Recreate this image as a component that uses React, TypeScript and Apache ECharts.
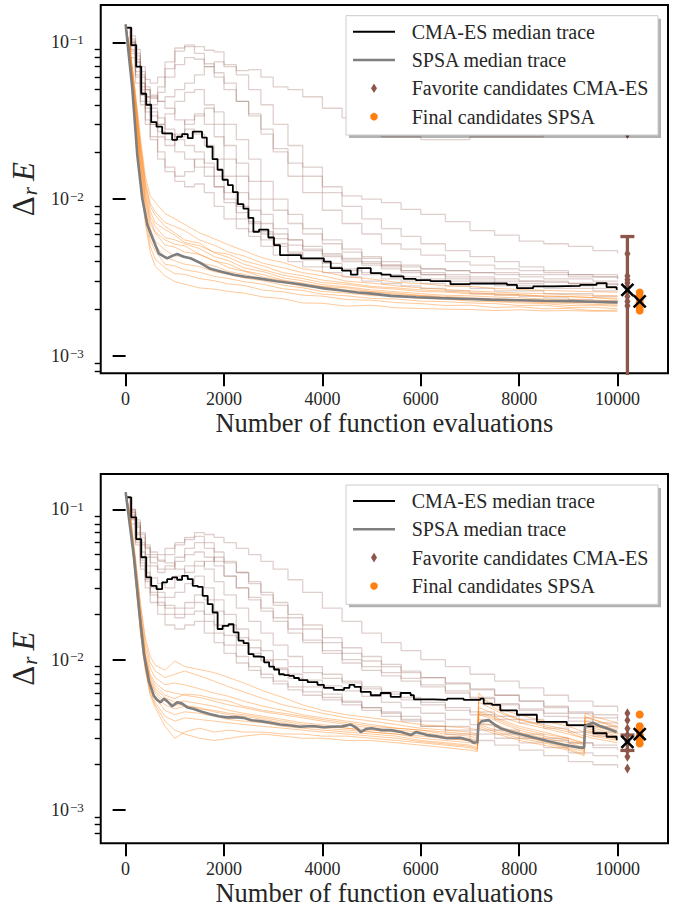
import React, { useEffect, useRef } from "react";
import * as echarts from "echarts";

// ---------- axes / ticks ----------
const xTickValues = [0, 2000, 4000, 6000, 8000, 10000];
const yDecadeExponents = [-3, -2, -1];
const yMinorMultipliers = [2, 3, 4, 5, 6, 7, 8, 9];
const xLabel = "Number of function evaluations";
const legendLabels = [
  "CMA-ES median trace",
  "SPSA median trace",
  "Favorite candidates CMA-ES",
  "Final candidates SPSA",
];

// ---------- x grids (function evaluations) ----------
const xCma = [0, 100, 200, 300, 400, 500, 650, 800, 1000, 1200, 1400, 1600, 1800, 2000, 2250, 2500, 2750, 3000, 3300, 3600, 4000, 4400, 4800, 5200, 5600, 6000, 6500, 7000, 7500, 8000, 8500, 9000, 9500, 10000];
const xSpsaTop = [0, 100, 200, 300, 400, 500, 600, 800, 1000, 1200, 1500, 1800, 2100, 2400, 2800, 3200, 3600, 4000, 4500, 5000, 5500, 6000, 6500, 7000, 7500, 8000, 8500, 9000, 9500, 10000];
const xSpsaBottom = [0, 100, 200, 300, 400, 500, 600, 800, 1000, 1200, 1500, 1800, 2100, 2400, 2800, 3200, 3600, 4000, 4500, 5000, 5500, 6000, 6500, 7000, 7150, 7180, 7400, 7700, 8000, 8500, 9000, 9320, 9340, 9500, 10000];

// ---------- values, in units of 1e-3 ----------
// Top panel
const cmaTracesTop = [
  [124, 110, 85, 62, 50, 44, 52, 68, 92, 96, 94, 89, 87, 70, 66, 67, 60, 52, 50, 45, 38, 33, 27, 25, 25, 24, 24, 25, 25, 25, 26, 26, 26, 26],
  [124, 105, 90, 70, 58, 55, 60, 75, 88, 94, 85, 73, 64, 55, 42, 34, 28, 21, 17, 14, 11, 10.5, 10, 9.5, 8.6, 8.0, 7.2, 6.3, 5.9, 5.4, 5.2, 5.0, 4.7, 4.5],
  [124, 95, 75, 55, 45, 40, 48, 60, 72, 80, 78, 70, 60, 50, 42, 35, 26, 20, 14, 11, 8.5, 7, 6, 5.2, 4.8, 4.4, 4.0, 3.8, 3.6, 3.5, 3.4, 3.3, 3.3, 3.2],
  [124, 100, 70, 50, 40, 34, 30, 35, 42, 48, 50, 40, 30, 22, 17, 13, 10, 8.5, 7, 6, 5.2, 4.6, 4.3, 4.0, 3.8, 3.6, 3.5, 3.4, 3.3, 3.2, 3.1, 3.1, 3.0, 3.0],
  [124, 90, 65, 48, 38, 30, 25, 22, 26, 32, 35, 30, 25, 18, 14, 10, 8.0, 6.5, 5.5, 4.8, 4.3, 4.0, 3.8, 3.6, 3.4, 3.3, 3.1, 3.0, 2.9, 2.9, 2.8, 2.8, 2.7, 2.75],
  [124, 85, 60, 42, 32, 25, 20, 16, 14, 15, 18, 16, 12, 9.5, 7.5, 6.2, 5.5, 5.0, 4.5, 4.2, 3.9, 3.6, 3.4, 3.3, 3.2, 3.1, 3.0, 2.9, 2.8, 2.8, 2.7, 2.7, 2.6, 2.6],
  [124, 98, 75, 55, 45, 38, 33, 28, 24, 22, 20, 17, 14, 11, 9, 7.2, 6.0, 5.2, 4.6, 4.1, 3.7, 3.5, 3.3, 3.1, 3.0, 2.9, 2.8, 2.7, 2.6, 2.6, 2.5, 2.5, 2.4, 2.4],
  [124, 80, 55, 40, 30, 24, 18, 15, 13, 12, 12.5, 11, 9, 7.5, 6.5, 5.8, 5.0, 4.4, 4.0, 3.7, 3.4, 3.2, 3.0, 2.9, 2.8, 2.7, 2.6, 2.5, 2.45, 2.4, 2.35, 2.3, 2.25, 2.2],
  [124, 102, 82, 65, 52, 46, 42, 38, 32, 30, 34, 38, 36, 30, 24, 18, 13, 10, 8, 6.5, 5.5, 4.8, 4.2, 3.8, 3.5, 3.3, 3.2, 3.1, 3.0, 3.0, 2.95, 2.9, 2.85, 2.9],
  [124, 95, 70, 52, 42, 36, 30, 26, 25, 28, 26, 22, 18, 14, 11, 8.5, 7, 6, 5.5, 5.0, 4.5, 4.2, 4.0, 3.8, 3.7, 3.6, 3.5, 3.4, 3.4, 3.3, 3.3, 3.2, 3.2, 3.1],
  [124, 88, 62, 46, 36, 30, 27, 24, 20, 18, 16, 14, 12, 10, 8.2, 7, 6.2, 5.6, 5.1, 4.7, 4.4, 4.1, 3.9, 3.7, 3.5, 3.4, 3.3, 3.2, 3.1, 3.0, 3.0, 2.9, 2.9, 2.8],
  [124, 100, 78, 60, 50, 45, 42, 45, 50, 55, 62, 70, 75, 72, 62, 50, 40, 30, 22, 16, 12, 9, 7.5, 6.5, 5.8, 5.2, 4.7, 4.3, 4.0, 3.7, 3.5, 3.3, 3.2, 3.1],
];
const spsaTracesTop = [
  [130, 88, 48, 25, 14, 10.5, 9.6, 8.1, 7.5, 6.9, 6.1, 5.6, 5.1, 4.7, 4.2, 3.95, 3.6, 3.45, 3.2, 3.1, 2.95, 2.9, 2.8, 2.78, 2.7, 2.66, 2.62, 2.6, 2.57, 2.55],
  [130, 85, 45, 23, 13, 9.4, 8.3, 7.1, 6.7, 6.3, 5.5, 5.1, 4.6, 4.35, 3.9, 3.65, 3.4, 3.25, 3.0, 2.92, 2.8, 2.72, 2.66, 2.6, 2.56, 2.52, 2.5, 2.46, 2.44, 2.42],
  [130, 82, 42, 21, 12, 8.4, 7.1, 6.4, 5.9, 5.3, 5.05, 4.6, 4.45, 4.05, 3.75, 3.4, 3.25, 3.05, 2.92, 2.78, 2.72, 2.64, 2.6, 2.54, 2.5, 2.47, 2.41, 2.4, 2.36, 2.34],
  [130, 80, 40, 20, 11, 7.8, 6.7, 5.7, 5.5, 5.2, 4.85, 4.3, 4.05, 3.65, 3.45, 3.15, 3.02, 2.85, 2.76, 2.64, 2.57, 2.5, 2.44, 2.42, 2.38, 2.35, 2.31, 2.28, 2.27, 2.25],
  [130, 78, 38, 18, 10, 7.0, 6.1, 5.1, 4.95, 4.6, 4.45, 4.05, 3.85, 3.5, 3.3, 3.05, 2.92, 2.78, 2.72, 2.58, 2.52, 2.44, 2.4, 2.36, 2.31, 2.29, 2.26, 2.24, 2.21, 2.2],
  [130, 76, 36, 17, 9.4, 6.5, 5.4, 4.75, 4.35, 4.35, 3.95, 3.75, 3.45, 3.32, 3.08, 2.97, 2.78, 2.72, 2.58, 2.52, 2.44, 2.41, 2.34, 2.31, 2.24, 2.22, 2.19, 2.16, 2.14, 2.11],
  [130, 75, 34, 16, 8.8, 6.0, 5.1, 4.25, 4.05, 3.85, 3.72, 3.45, 3.32, 3.15, 3.02, 2.83, 2.72, 2.58, 2.52, 2.43, 2.41, 2.33, 2.31, 2.24, 2.22, 2.18, 2.16, 2.1, 2.11, 2.08],
  [130, 73, 33, 15, 8.2, 5.5, 4.7, 3.85, 3.75, 3.55, 3.42, 3.22, 3.12, 2.98, 2.87, 2.68, 2.62, 2.48, 2.42, 2.33, 2.31, 2.24, 2.22, 2.18, 2.16, 2.1, 2.11, 2.04, 2.05, 2.0],
  [130, 72, 31, 14, 7.6, 5.0, 4.15, 3.65, 3.35, 3.32, 3.12, 3.02, 2.88, 2.82, 2.63, 2.57, 2.44, 2.41, 2.29, 2.27, 2.19, 2.16, 2.1, 2.11, 2.04, 2.06, 2.0, 2.01, 1.95, 1.96],
  [130, 70, 30, 13, 7.0, 4.6, 3.75, 3.25, 2.98, 2.87, 2.72, 2.67, 2.58, 2.52, 2.38, 2.32, 2.18, 2.17, 2.08, 2.11, 2.03, 2.01, 1.99, 1.98, 1.95, 1.97, 1.94, 1.95, 1.93, 1.93],
  [130, 84, 44, 22, 12.5, 9.0, 7.9, 6.7, 6.1, 5.5, 5.25, 4.55, 4.25, 3.85, 3.55, 3.28, 3.12, 2.94, 2.86, 2.73, 2.67, 2.58, 2.56, 2.49, 2.46, 2.44, 2.41, 2.39, 2.36, 2.3],
  [130, 79, 39, 19, 10.5, 7.4, 6.2, 5.5, 5.15, 5.05, 4.45, 4.05, 3.65, 3.48, 3.18, 3.02, 2.83, 2.77, 2.63, 2.57, 2.48, 2.42, 2.36, 2.32, 2.28, 2.26, 2.21, 2.2, 2.19, 2.15],
];
const cmaMedianTop = [
  [0, 124], [115, 96], [216, 70], [318, 47], [419, 40], [520, 31], [628, 29], [743, 26.3], [946, 23.9], [1047, 25], [1148, 26], [1263, 24.5], [1364, 27], [1553, 24.7], [1650, 21.6], [1767, 18], [1869, 15.4], [1970, 13.3], [2078, 12.3], [2180, 11.1], [2280, 9.3], [2395, 8.7], [2496, 7.6], [2597, 6.2], [2712, 6.4], [2901, 5.7], [3016, 5.1], [3138, 4.4], [3362, 4.4], [3565, 4.2], [3770, 4.2], [4030, 4.0], [4170, 3.63], [4400, 3.5], [4578, 3.3], [4713, 3.63], [4983, 3.38], [5200, 3.3], [5388, 3.22], [5651, 3.1], [5900, 3.05], [6198, 3.0], [6603, 2.87], [7000, 2.9], [7413, 2.9], [7752, 2.84], [7955, 2.71], [8285, 2.78], [8700, 2.8], [9236, 2.84], [9574, 2.92], [9777, 2.75], [9980, 2.67], [10000, 2.67],
];
const spsaMedianTop = [
  [0, 130], [135, 51], [237, 19.1], [338, 10.1], [440, 6.9], [541, 5.7], [675, 4.5], [844, 4.2], [950, 4.35], [1047, 4.47], [1180, 4.3], [1317, 4.2], [1500, 3.95], [1722, 3.6], [1950, 3.45], [2194, 3.3], [2430, 3.2], [2667, 3.14], [3072, 3.0], [3545, 2.87], [4030, 2.7], [4400, 2.62], [4713, 2.54], [5000, 2.5], [5388, 2.42], [5900, 2.37], [6400, 2.34], [7000, 2.31], [7413, 2.29], [8000, 2.27], [8500, 2.25], [9000, 2.24], [9500, 2.22], [10000, 2.2],
];
const cmaFavoritesTop = [26, 4.49, 3.24, 3.06, 2.92, 2.75, 2.58, 2.4, 2.23, 2.09];
const spsaFinalTop = [2.54, 2.4, 2.29, 2.18, 2.05, 1.95];
const cmaSummaryTop = { x: 10200, median: 2.64, errLow: -4.6, errHigh: 5.78 };
const spsaSummaryTop = { x: 10450, median: 2.23 };

// Bottom panel
const cmaTracesBottom = [
  [120, 100, 85, 70, 58, 52, 50, 55, 60, 65, 70, 68, 65, 60, 55, 50, 45, 40, 34, 28, 22, 18, 15, 13, 11.5, 10, 9, 8, 7.2, 6.5, 5.8, 5.3, 4.9, 4.5],
  [120, 95, 80, 65, 55, 48, 45, 50, 58, 63, 66, 60, 52, 45, 38, 32, 27, 23, 19, 16, 13, 11, 9.8, 9.0, 8.2, 7.6, 7.0, 6.4, 5.8, 5.3, 4.8, 4.4, 4.1, 3.9],
  [120, 98, 78, 60, 50, 44, 40, 42, 48, 55, 60, 55, 45, 36, 30, 25, 21, 18, 15, 13, 11, 9.5, 8.5, 7.8, 7.2, 6.6, 6.0, 5.5, 5.0, 4.6, 4.2, 3.9, 3.6, 3.5],
  [120, 90, 70, 52, 42, 35, 32, 30, 36, 42, 45, 40, 33, 27, 22, 18, 15, 12.5, 10.5, 9.0, 8.0, 7.2, 6.6, 6.1, 5.6, 5.2, 4.8, 4.5, 4.2, 4.0, 3.8, 3.6, 3.3, 3.2],
  [120, 92, 68, 48, 38, 31, 28, 26, 28, 32, 36, 30, 25, 20, 16, 13.5, 11.5, 10, 9, 8.2, 7.5, 7, 6.4, 5.9, 5.4, 5.0, 4.6, 4.3, 4.0, 3.8, 3.5, 3.3, 3.1, 3.0],
  [120, 85, 62, 44, 34, 28, 24, 22, 20, 22, 24, 20, 17, 14.5, 12.5, 11, 9.8, 8.8, 8, 7.3, 6.7, 6.2, 5.7, 5.2, 4.8, 4.4, 4.0, 3.7, 3.4, 3.2, 3.0, 2.8, 2.6, 2.5],
  [120, 80, 58, 40, 30, 24, 20, 17, 16, 17, 18, 15, 13, 11, 9.5, 8.5, 7.6, 6.9, 6.3, 5.8, 5.4, 5.0, 4.6, 4.2, 3.9, 3.6, 3.4, 3.2, 3.0, 2.8, 2.6, 2.4, 2.3, 2.2],
  [120, 88, 64, 46, 36, 30, 26, 23, 22, 24, 27, 25, 21, 17, 14, 12, 10, 8.6, 7.5, 6.6, 5.9, 5.3, 4.8, 4.4, 4.0, 3.6, 3.2, 2.9, 2.7, 2.5, 2.3, 2.1, 2.0, 1.9],
  [120, 96, 76, 58, 48, 42, 38, 40, 45, 50, 52, 48, 42, 36, 30, 26, 22, 19, 16, 13.5, 11.5, 10, 9, 8.2, 7.5, 6.8, 6.2, 5.6, 5.1, 4.7, 4.4, 4.1, 3.8, 3.7],
  [120, 100, 82, 68, 56, 50, 46, 44, 40, 38, 42, 45, 48, 44, 38, 33, 28, 24, 20, 17, 14, 12, 10.5, 9.3, 8.4, 7.6, 6.9, 6.3, 5.8, 5.3, 4.9, 4.5, 4.3, 4.1],
  [120, 86, 60, 42, 33, 27, 23, 20, 19, 20, 21, 18, 15, 12.5, 10.5, 9, 8, 7.2, 6.6, 6.1, 5.6, 5.2, 4.8, 4.5, 4.2, 3.9, 3.6, 3.4, 3.2, 3.0, 2.9, 2.8, 2.7, 2.7],
];
const spsaTracesBottom = [
  [130, 90, 48, 24, 14, 10.5, 9.2, 8.5, 9.8, 9.0, 8.6, 8.2, 7.6, 7.0, 6.2, 5.6, 5.0, 4.6, 4.3, 4.1, 3.9, 3.7, 3.6, 3.5, 3.4, 5.6, 5.2, 4.6, 4.3, 3.9, 3.6, 3.3, 4.4, 4.2, 3.8],
  [130, 88, 46, 23, 13, 9.6, 8.4, 7.6, 8.0, 8.4, 7.8, 7.2, 6.6, 6.1, 5.5, 5.0, 4.7, 4.4, 4.1, 3.9, 3.7, 3.5, 3.4, 3.3, 3.2, 5.2, 4.8, 4.3, 4.0, 3.7, 3.4, 3.1, 4.1, 4.0, 3.6],
  [130, 86, 44, 21, 12, 8.8, 7.6, 6.8, 7.0, 6.8, 6.4, 6.0, 5.7, 5.3, 4.9, 4.6, 4.3, 4.1, 3.9, 3.7, 3.5, 3.4, 3.2, 3.1, 3.0, 4.8, 4.5, 4.1, 3.8, 3.5, 3.2, 3.0, 3.9, 3.8, 3.4],
  [130, 84, 42, 20, 11, 8.0, 7.0, 6.2, 6.0, 5.8, 5.6, 5.3, 5.0, 4.8, 4.5, 4.3, 4.1, 3.9, 3.7, 3.5, 3.4, 3.3, 3.1, 3.0, 2.9, 4.5, 4.3, 3.9, 3.6, 3.3, 3.0, 2.8, 3.7, 3.6, 3.3],
  [130, 82, 40, 19, 10.5, 7.4, 6.4, 5.6, 5.2, 5.3, 5.1, 4.9, 4.6, 4.4, 4.2, 4.0, 3.8, 3.7, 3.5, 3.4, 3.3, 3.2, 3.0, 2.9, 2.8, 4.3, 4.1, 3.7, 3.4, 3.1, 2.9, 2.7, 3.6, 3.5, 3.2],
  [130, 80, 38, 18, 10, 7.0, 6.0, 5.0, 4.7, 4.9, 4.8, 4.5, 4.3, 4.2, 4.0, 3.8, 3.6, 3.5, 3.4, 3.3, 3.2, 3.0, 2.9, 2.8, 2.7, 4.0, 3.9, 3.5, 3.3, 3.0, 2.8, 2.6, 3.5, 3.4, 3.1],
  [130, 79, 37, 17, 9.5, 6.6, 5.6, 4.6, 4.3, 4.5, 4.4, 4.2, 4.0, 3.9, 3.8, 3.6, 3.5, 3.4, 3.3, 3.2, 3.1, 2.9, 2.8, 2.7, 2.6, 3.8, 3.7, 3.4, 3.2, 2.9, 2.7, 2.5, 3.4, 3.3, 3.0],
  [130, 78, 36, 16, 9.0, 6.2, 5.2, 4.2, 3.9, 4.1, 4.0, 3.9, 3.8, 3.7, 3.6, 3.5, 3.4, 3.3, 3.2, 3.1, 3.0, 2.85, 2.75, 2.65, 2.55, 3.7, 3.5, 3.3, 3.1, 2.85, 2.6, 2.45, 3.3, 3.2, 2.95],
  [130, 76, 34, 15, 8.5, 5.8, 4.8, 3.6, 3.0, 3.3, 3.5, 3.3, 3.4, 3.3, 3.3, 3.2, 3.2, 3.1, 3.1, 3.0, 2.9, 2.8, 2.7, 2.6, 2.5, 3.6, 3.4, 3.2, 3.0, 2.8, 2.55, 2.35, 3.2, 3.1, 2.9],
  [130, 77, 35, 15.5, 8.7, 6.0, 5.0, 3.9, 3.4, 3.2, 3.0, 2.9, 3.0, 3.1, 3.2, 3.1, 3.0, 3.0, 2.9, 2.9, 2.8, 2.7, 2.6, 2.5, 2.45, 3.5, 3.3, 3.1, 2.9, 2.7, 2.5, 2.3, 3.1, 3.0, 2.8],
  [130, 83, 41, 19.5, 10.8, 7.7, 6.7, 5.8, 5.5, 5.9, 5.8, 5.5, 5.3, 4.9, 4.6, 4.4, 4.2, 4.0, 3.8, 3.6, 3.5, 3.4, 3.3, 3.2, 3.1, 6.0, 5.0, 4.4, 4.0, 3.6, 3.3, 3.0, 4.2, 4.0, 3.5],
  [130, 81, 39, 18.5, 10.2, 7.2, 6.2, 5.3, 5.0, 5.0, 4.7, 4.6, 4.4, 4.3, 4.1, 3.9, 3.7, 3.6, 3.5, 3.3, 3.2, 3.1, 3.0, 2.9, 2.8, 4.4, 4.2, 3.8, 3.5, 3.2, 3.0, 2.75, 3.8, 3.7, 3.3],
];
const cmaMedianBottom = [
  [0, 120], [115, 88.5], [216, 63.4], [318, 48], [419, 35.3], [520, 31], [628, 29.5], [743, 32.7], [844, 34.3], [946, 35.3], [1047, 34], [1148, 36.1], [1263, 34.3], [1364, 31], [1465, 30.5], [1566, 26.6], [1668, 23.4], [1769, 20.6], [1870, 16], [1972, 16.8], [2093, 17.2], [2194, 15.2], [2295, 13.4], [2397, 12.9], [2498, 10.9], [2600, 10.5], [2714, 10.4], [2815, 9.6], [2917, 9.0], [3018, 8.6], [3119, 8.0], [3220, 7.9], [3322, 7.8], [3423, 7.55], [3524, 7.3], [3700, 7.1], [3900, 6.8], [4030, 6.5], [4230, 6.3], [4440, 6.5], [4550, 6.8], [4650, 6.6], [4780, 6.1], [4983, 5.8], [5185, 6.0], [5388, 5.66], [5590, 6.0], [5793, 5.8], [5860, 5.45], [6263, 5.4], [6535, 5.5], [6873, 5.4], [7211, 5.5], [7279, 5.1], [7450, 5.0], [7616, 4.6], [7954, 4.3], [8360, 3.86], [8967, 3.67], [9372, 3.6], [9508, 3.24], [9777, 3.07], [9980, 2.95], [10000, 2.95],
];
const spsaMedianBottom = [
  [0, 130], [169, 48], [270, 22.3], [371, 10.9], [473, 7.2], [574, 5.75], [640, 5.4], [709, 5.2], [780, 5.5], [844, 5.3], [946, 4.9], [1050, 5.2], [1148, 5.1], [1260, 4.8], [1385, 4.7], [1550, 4.5], [1722, 4.34], [1900, 4.2], [2060, 4.13], [2230, 4.15], [2397, 4.1], [2560, 3.95], [2735, 3.9], [2950, 3.8], [3140, 3.7], [3350, 3.65], [3545, 3.58], [3800, 3.62], [4030, 3.55], [4165, 3.58], [4400, 3.6], [4578, 3.7], [4700, 3.5], [4780, 3.3], [4880, 3.45], [5000, 3.5], [5200, 3.4], [5388, 3.4], [5600, 3.3], [5793, 3.15], [5900, 3.3], [6130, 3.15], [6300, 3.1], [6535, 3.0], [6800, 3.02], [7000, 2.9], [7077, 2.8], [7150, 2.82], [7170, 3.7], [7240, 3.9], [7380, 3.96], [7500, 3.7], [7616, 3.5], [7850, 3.3], [8088, 3.15], [8350, 3.0], [8629, 2.84], [8900, 2.72], [9236, 2.6], [9320, 2.6], [9338, 3.6], [9400, 3.7], [9508, 3.8], [9650, 3.6], [9777, 3.5], [9980, 3.3],
];
const cmaFavoritesBottom = [4.4, 3.96, 3.49, 3.15, 2.84, 2.49, 2.26, 1.89];
const spsaFinalBottom = [4.32, 3.61, 3.4, 3.15, 2.92, 2.77];
const cmaSummaryBottom = { x: 10200, median: 2.84, errLow: 2.49, errHigh: 3.15 };
const spsaSummaryBottom = { x: 10450, median: 3.2 };

// ---------- styling ----------
const FONT = "Liberation Serif";
const TEXT = "#262626";
const BROWN = "#8c564b";
const ORANGE = "#ff7f0e";
const CMA_TRACE = "rgba(140,86,75,0.28)";
const SPSA_TRACE = "rgba(255,127,14,0.42)";
const GRAY = "#7f7f7f";
const UNIT = 1e-3;

const lg = (v: number) => Math.log10(v * UNIT);

type Panel = {
  cmaTraces: number[][];
  spsaTraces: number[][];
  xSpsa: number[];
  cmaMedian: number[][];
  spsaMedian: number[][];
  cmaFavorites: number[];
  spsaFinal: number[];
  cmaSummary: { x: number; median: number; errLow: number; errHigh: number };
  spsaSummary: { x: number; median: number };
  yMin: number;
  yMax: number;
  grid: { left: number; top: number; width: number; height: number };
  legendTop: number;
};

const panels: Panel[] = [
  {
    cmaTraces: cmaTracesTop,
    spsaTraces: spsaTracesTop,
    xSpsa: xSpsaTop,
    cmaMedian: cmaMedianTop,
    spsaMedian: spsaMedianTop,
    cmaFavorites: cmaFavoritesTop,
    spsaFinal: spsaFinalTop,
    cmaSummary: cmaSummaryTop,
    spsaSummary: spsaSummaryTop,
    yMin: -3.11,
    yMax: -0.762,
    grid: { left: 99, top: 5, width: 569, height: 368.3 },
    legendTop: 15.7,
  },
  {
    cmaTraces: cmaTracesBottom,
    spsaTraces: spsaTracesBottom,
    xSpsa: xSpsaBottom,
    cmaMedian: cmaMedianBottom,
    spsaMedian: spsaMedianBottom,
    cmaFavorites: cmaFavoritesBottom,
    spsaFinal: spsaFinalBottom,
    cmaSummary: cmaSummaryBottom,
    spsaSummary: spsaSummaryBottom,
    yMin: -3.2215,
    yMax: -0.765,
    grid: { left: 99, top: 474, width: 569, height: 369.3 },
    legendTop: 485,
  },
];

const minorLogs: number[] = [];
[-4, -3, -2, -1].forEach((e) =>
  yMinorMultipliers.forEach((m) => minorLogs.push(Math.log10(m) + e))
);

function legendGraphic(top: number) {
  const L = 346;
  const W = 312;
  const H = 119.3;
  const rows = [top + 16, top + 44.3, top + 72.6, top + 101];
  const els: any[] = [
    { type: "rect", z: 100, silent: true, shape: { x: L + 3, y: top + 3, width: W, height: H }, style: { fill: "rgba(0,0,0,0.3)" } },
    { type: "rect", z: 101, silent: true, shape: { x: L, y: top, width: W, height: H }, style: { fill: "#ffffff", stroke: "#cccccc", lineWidth: 1 } },
    { type: "line", z: 102, silent: true, shape: { x1: 353, y1: rows[0], x2: 395, y2: rows[0] }, style: { stroke: "#000", lineWidth: 2 } },
    { type: "line", z: 102, silent: true, shape: { x1: 353, y1: rows[1], x2: 395, y2: rows[1] }, style: { stroke: GRAY, lineWidth: 2.6 } },
    { type: "polygon", z: 102, silent: true, shape: { points: [[374, rows[2] - 4.8], [377, rows[2]], [374, rows[2] + 4.8], [371, rows[2]]] }, style: { fill: BROWN } },
    { type: "circle", z: 102, silent: true, shape: { cx: 374, cy: rows[3], r: 3.8 }, style: { fill: ORANGE } },
  ];
  legendLabels.forEach((t, i) => {
    els.push({
      type: "text",
      z: 102,
      silent: true,
      x: 411.7,
      y: rows[i],
      style: { text: t, fontFamily: FONT, fontSize: 20, fill: TEXT, verticalAlign: "middle" },
    });
  });
  return els;
}

function buildOption() {
  const grids: any[] = [];
  const xAxes: any[] = [];
  const yAxes: any[] = [];
  const series: any[] = [];
  const graphic: any[] = [];

  panels.forEach((p, gi) => {
    grids.push({ ...p.grid, show: true, borderColor: "#000", borderWidth: 2, backgroundColor: "transparent" });
    xAxes.push({
      type: "value",
      gridIndex: gi,
      min: -506,
      max: 11025,
      name: xLabel,
      nameLocation: "middle",
      nameGap: 32,
      nameTextStyle: { fontFamily: FONT, fontSize: 26.5, color: TEXT },
      axisLine: { show: false },
      splitLine: { show: false },
      axisTick: { show: true, length: 13, customValues: xTickValues, lineStyle: { color: "#000", width: 2 } },
      axisLabel: {
        customValues: xTickValues,
        margin: 17,
        fontFamily: FONT,
        fontSize: 18,
        color: TEXT,
        formatter: (v: number) => String(v),
      },
    });
    const yMajorIndex = yAxes.length;
    yAxes.push({
      type: "value",
      gridIndex: gi,
      position: "left",
      min: p.yMin,
      max: p.yMax,
      name: "{d|Δ}{r|r}{e|E}",
      nameLocation: "middle",
      nameRotate: 90,
      nameGap: 54,
      nameTextStyle: {
        rich: {
          d: { fontFamily: FONT, fontSize: 31, color: TEXT },
          r: { fontFamily: FONT, fontSize: 21, fontStyle: "italic", color: TEXT, verticalAlign: "bottom", padding: [12, 0, 0, 1] },
          e: { fontFamily: FONT, fontSize: 31, fontStyle: "italic", color: TEXT, padding: [0, 0, 0, 6] },
        },
      },
      axisLine: { show: false },
      splitLine: { show: false },
      axisTick: { show: true, length: 13, customValues: yDecadeExponents, lineStyle: { color: "#000", width: 2 } },
      axisLabel: {
        customValues: yDecadeExponents,
        margin: 17,
        formatter: (v: number) => `{b|10}{s|−${Math.round(-v)}}`,
        rich: {
          b: { fontFamily: FONT, fontSize: 18, color: TEXT },
          s: { fontFamily: FONT, fontSize: 13, color: TEXT, verticalAlign: "top", padding: [0, 0, 6, 1] },
        },
      },
    });
    yAxes.push({
      type: "value",
      gridIndex: gi,
      position: "left",
      offset: 0,
      min: p.yMin,
      max: p.yMax,
      axisLine: { show: false },
      splitLine: { show: false },
      axisLabel: { show: false },
      axisTick: { show: true, length: 6, customValues: minorLogs, lineStyle: { color: "#000", width: 1.4 } },
    });

    const common = { xAxisIndex: gi, yAxisIndex: yMajorIndex, silent: true, animation: false };

    p.cmaTraces.forEach((tr) => {
      series.push({
        ...common,
        type: "line",
        step: "end",
        symbol: "none",
        data: xCma.map((x, i) => [x, lg(tr[i])]),
        lineStyle: { color: CMA_TRACE, width: 1.3 },
        z: 2,
      });
    });
    p.spsaTraces.forEach((tr) => {
      series.push({
        ...common,
        type: "line",
        symbol: "none",
        data: p.xSpsa.map((x, i) => [x, lg(tr[i])]),
        lineStyle: { color: SPSA_TRACE, width: 1 },
        z: 2,
      });
    });
    series.push({
      ...common,
      type: "line",
      step: "end",
      symbol: "none",
      data: p.cmaMedian.map(([x, v]) => [x, lg(v)]),
      lineStyle: { color: "#000", width: 1.8 },
      z: 3,
    });
    series.push({
      ...common,
      type: "line",
      symbol: "none",
      data: p.spsaMedian.map(([x, v]) => [x, lg(v)]),
      lineStyle: { color: GRAY, width: 2.6 },
      z: 3,
    });
    series.push({
      ...common,
      type: "scatter",
      symbol: "diamond",
      symbolSize: [6, 10],
      data: p.cmaFavorites.map((v) => [p.cmaSummary.x, lg(v)]),
      itemStyle: { color: BROWN, opacity: 1 },
      z: 4,
    });
    const s = p.cmaSummary;
    const hi = lg(s.errHigh);
    const lo = s.errLow > 0 ? lg(s.errLow) : p.yMin - 2;
    series.push({
      ...common,
      type: "line",
      symbol: "none",
      data: [[s.x, hi], [s.x, lo]],
      lineStyle: { color: BROWN, width: 3.3 },
      z: 5,
    });
    series.push({
      ...common,
      type: "scatter",
      symbol: "rect",
      symbolSize: [14, 3.3],
      data: [[s.x, hi], [s.x, lo]],
      itemStyle: { color: BROWN, opacity: 1 },
      z: 5,
    });
    series.push({
      ...common,
      type: "scatter",
      symbol: "circle",
      symbolSize: 8,
      data: p.spsaFinal.map((v) => [p.spsaSummary.x, lg(v)]),
      itemStyle: { color: ORANGE, opacity: 1 },
      z: 5,
    });
    series.push({
      ...common,
      type: "scatter",
      symbol: "path://M0 0L10 10M10 0L0 10",
      symbolSize: 12,
      data: [[s.x, lg(s.median)], [p.spsaSummary.x, lg(p.spsaSummary.median)]],
      itemStyle: { color: "none", borderColor: "#000", borderWidth: 2.5, opacity: 1 },
      z: 6,
    });

    graphic.push(...legendGraphic(p.legendTop));
  });

  return {
    animation: false,
    backgroundColor: "#ffffff",
    textStyle: { fontFamily: FONT },
    grid: grids,
    xAxis: xAxes,
    yAxis: yAxes,
    series,
    graphic,
  };
}

export default function App() {
  const ref = useRef<HTMLDivElement>(null);
  useEffect(() => {
    if (!ref.current) return;
    const chart = echarts.init(ref.current, null, { renderer: "svg" });
    chart.setOption(buildOption() as any);
    return () => chart.dispose();
  }, []);
  return (
    <div
      ref={ref}
      style={{ position: "fixed", left: 0, top: 0, width: 680, height: 908, background: "#fff" }}
    />
  );
}
